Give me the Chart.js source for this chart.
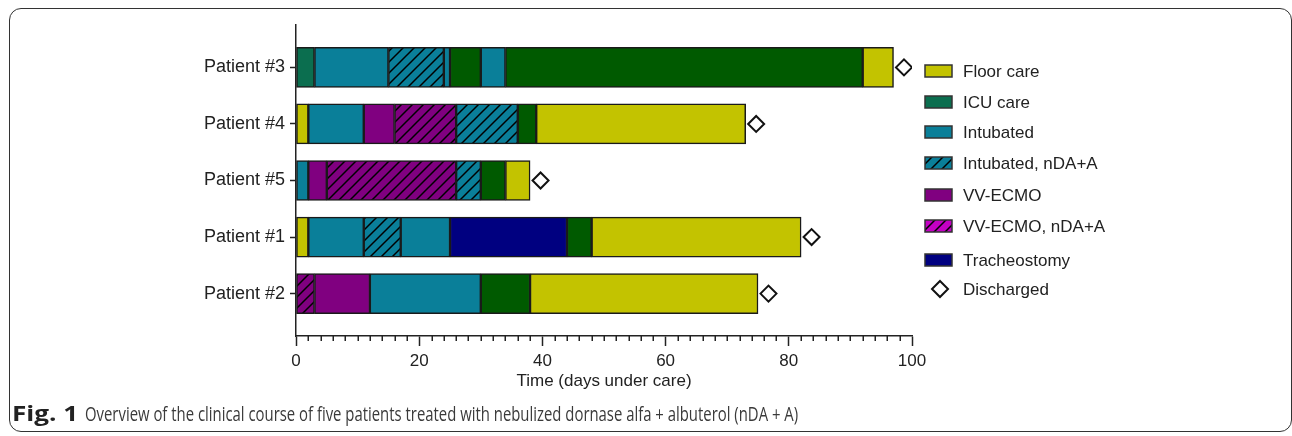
<!DOCTYPE html>
<html>
<head>
<meta charset="utf-8">
<title>Clinical course of five patients</title>
<script src="https://cdn.jsdelivr.net/npm/chart.js@4"></script>
<style>
  html, body { margin: 0; padding: 0; background: #fff; }
  #wrap { position: relative; width: 1292px; height: 436px; overflow: hidden; }
  #frame { position: absolute; left: 9px; top: 8px; width: 1283px; height: 424px;
           border: 1.5px solid #333; border-radius: 12px; box-sizing: border-box; }
  #chart { position: absolute; left: 0; top: 0; }
  .cap { position: absolute; top: 402px; font-family: "Open Sans", sans-serif;
         line-height: 24px; white-space: nowrap; transform-origin: 0 0; }
  #capLead { left: 12px; font-size: 21px; font-weight: 700; color: #222; top: 401px; }
  #capText { left: 85px; font-size: 20px; color: #3a3a3a; }
</style>
</head>
<body>
<div id="wrap">
  <div id="frame"></div>
  <canvas id="chart" width="1292" height="436"></canvas>
  <div class="cap" id="capLead">Fig. 1</div>
  <div class="cap" id="capText">Overview of the clinical course of five patients treated with nebulized dornase alfa + albuterol (nDA + A)</div>
</div>
<script>
// Patients, top to bottom
const patients = ['Patient #3', 'Patient #4', 'Patient #5', 'Patient #1', 'Patient #2'];

// Day on which each phase begins; the final entry is the last day of the stay
const patient3Days = [0, 3, 15, 24, 25, 30, 34, 92, 97];
const patient3Phases = ['icu', 'intubated', 'intubatedNda', 'intubated', 'icuLate', 'intubated', 'icuLate', 'floor'];
const patient4Days = [0, 2, 11, 16, 26, 36, 39, 73];
const patient4Phases = ['floor', 'intubated', 'ecmo', 'ecmoNda', 'intubatedNda', 'icuLate', 'floor'];
const patient5Days = [0, 2, 5, 26, 30, 34, 38];
const patient5Phases = ['intubated', 'ecmo', 'ecmoNda', 'intubatedNda', 'icuLate', 'floor'];
const patient1Days = [0, 2, 11, 17, 25, 44, 48, 82];
const patient1Phases = ['floor', 'intubated', 'intubatedNda', 'intubated', 'trach', 'icuLate', 'floor'];
const patient2Days = [0, 3, 12, 30, 38, 75];
const patient2Phases = ['ecmoNda', 'ecmo', 'intubated', 'icuLate', 'floor'];

// Discharge marker positions (days)
const dischargeDay = [98.7, 74.7, 39.7, 83.7, 76.7];

// Legend entries
const legendLabels = ['Floor care', 'ICU care', 'Intubated', 'Intubated, nDA+A', 'VV-ECMO', 'VV-ECMO, nDA+A', 'Tracheostomy', 'Discharged'];

const FONT = '"Liberation Sans", Arial, sans-serif';
const INK = '#222';

function hatch(color) {
  const s = 11;
  const c = document.createElement('canvas');
  c.width = s; c.height = s;
  const g = c.getContext('2d');
  g.fillStyle = color;
  g.fillRect(0, 0, s, s);
  g.strokeStyle = '#000';
  g.lineWidth = 1.5;
  g.beginPath();
  g.moveTo(0, s); g.lineTo(s, 0);
  g.moveTo(-2, 2); g.lineTo(2, -2);
  g.moveTo(s - 2, s + 2); g.lineTo(s + 2, s - 2);
  g.stroke();
  return g.createPattern(c, 'repeat');
}

const COLORS = {
  floor: '#c3c300',
  icu: '#0b6e4f',
  icuLate: '#005a00',
  intubated: '#0a7f99',
  ecmo: '#800080',
  ecmoLegend: '#c400c4',
  trach: '#000080'
};

const phaseFill = {
  floor: COLORS.floor,
  icu: COLORS.icu,
  icuLate: COLORS.icuLate,
  intubated: COLORS.intubated,
  intubatedNda: hatch(COLORS.intubated),
  ecmo: COLORS.ecmo,
  ecmoNda: hatch(COLORS.ecmo),
  trach: COLORS.trach
};

const legendFill = [
  COLORS.floor, COLORS.icu, COLORS.intubated, hatch(COLORS.intubated),
  COLORS.ecmo, hatch(COLORS.ecmoLegend), COLORS.trach, null
];

const allDays = [patient3Days, patient4Days, patient5Days, patient1Days, patient2Days];
const allPhases = [patient3Phases, patient4Phases, patient5Phases, patient1Phases, patient2Phases];

// One dataset per segment slot; each patient contributes its k-th phase
const slotCount = Math.max(...allPhases.map(p => p.length));
const barDatasets = [];
for (let k = 0; k < slotCount; k++) {
  const data = [];
  allPhases.forEach((phases, i) => {
    if (k < phases.length) {
      data.push({ x: [allDays[i][k], allDays[i][k + 1]], y: i, phase: phases[k] });
    }
  });
  barDatasets.push({
    type: 'bar',
    indexAxis: 'y',
    data,
    grouped: false,
    barThickness: 40,
    backgroundColor: ctx => (ctx.raw ? phaseFill[ctx.raw.phase] : 'transparent'),
    borderColor: '#1a1a1a',
    borderWidth: 1.5,
    borderSkipped: false
  });
}

const dischargeDataset = {
  type: 'scatter',
  data: dischargeDay.map((d, i) => ({ x: d, y: i })),
  pointStyle: 'rectRot',
  pointRadius: 8,
  pointHoverRadius: 8,
  pointBorderWidth: 2,
  pointBackgroundColor: '#fff',
  pointBorderColor: '#111',
  showLine: false
};

// Minor x ticks and the legend panel
const decorations = {
  id: 'decorations',
  afterDraw(chart) {
    const ctx = chart.ctx;
    const xs = chart.scales.x;
    const axisY = chart.chartArea.bottom;
    ctx.save();
    ctx.strokeStyle = INK;
    ctx.lineWidth = 1.5;
    ctx.beginPath();
    for (let v = xs.min; v <= xs.max; v += 2) {
      if (v % 20 === 0) continue;
      const px = Math.round(xs.getPixelForValue(v)) + 0.25;
      ctx.moveTo(px, axisY);
      ctx.lineTo(px, axisY + 5);
    }
    ctx.stroke();

    const rowY = [71, 102, 132, 163, 195, 226, 260, 289];
    ctx.font = '17px ' + FONT;
    ctx.textBaseline = 'middle';
    ctx.textAlign = 'left';
    legendLabels.forEach((label, i) => {
      const y = rowY[i];
      if (legendFill[i]) {
        ctx.fillStyle = legendFill[i];
        ctx.fillRect(925, y - 6, 27, 12);
        ctx.strokeStyle = '#333';
        ctx.lineWidth = 1.5;
        ctx.strokeRect(925, y - 6, 27, 12);
      } else {
        ctx.fillStyle = '#fff';
        ctx.strokeStyle = '#111';
        ctx.lineWidth = 2;
        ctx.beginPath();
        ctx.moveTo(940, y - 8); ctx.lineTo(948, y); ctx.lineTo(940, y + 8); ctx.lineTo(932, y);
        ctx.closePath();
        ctx.fill();
        ctx.stroke();
      }
      ctx.fillStyle = INK;
      ctx.fillText(label, 963, y + 1);
    });
    ctx.restore();
  }
};

new Chart(document.getElementById('chart'), {
  type: 'bar',
  data: { datasets: [...barDatasets, dischargeDataset] },
  options: {
    responsive: false,
    animation: false,
    devicePixelRatio: 1,
    layout: { padding: { top: 25, right: 380, left: 0, bottom: 0 } },
    plugins: { legend: { display: false }, tooltip: { enabled: false } },
    scales: {
      x: {
        type: 'linear',
        position: 'bottom',
        min: 0,
        max: 100,
        offset: false,
        afterFit: s => { s.height = 100; },
        border: { display: true, color: INK, width: 1.5 },
        grid: { display: true, offset: false, drawOnChartArea: false, drawTicks: true, tickLength: 10, tickColor: INK, tickWidth: 1.5 },
        ticks: { stepSize: 20, padding: 5, maxRotation: 0, color: INK, font: { family: FONT, size: 17 } },
        title: { display: true, text: 'Time (days under care)', color: INK,
                 font: { family: FONT, size: 17 }, padding: { top: 44, bottom: 44 } }
      },
      y: {
        type: 'linear',
        position: 'left',
        min: -0.75,
        max: 4.75,
        reverse: true,
        offset: false,
        afterFit: s => { s.width = 296; },
        afterBuildTicks: s => { s.ticks = patients.map((_, i) => ({ value: i })); },
        border: { display: true, color: INK, width: 1.5 },
        grid: { display: true, offset: false, drawOnChartArea: false, drawTicks: true, tickLength: 6, tickColor: INK, tickWidth: 1.5 },
        ticks: { autoSkip: false, padding: 5, color: INK, font: { family: FONT, size: 18 },
                 callback: v => patients[v] }
      }
    }
  },
  plugins: [decorations]
});

// Fit each caption run to its column width
function fitWidth(id, width) {
  const el = document.getElementById(id);
  el.style.transform = 'scaleX(' + (width / el.scrollWidth) + ')';
}
document.fonts.ready.then(() => {
  fitWidth('capLead', 66);
  fitWidth('capText', 713);
});
</script>
</body>
</html>
